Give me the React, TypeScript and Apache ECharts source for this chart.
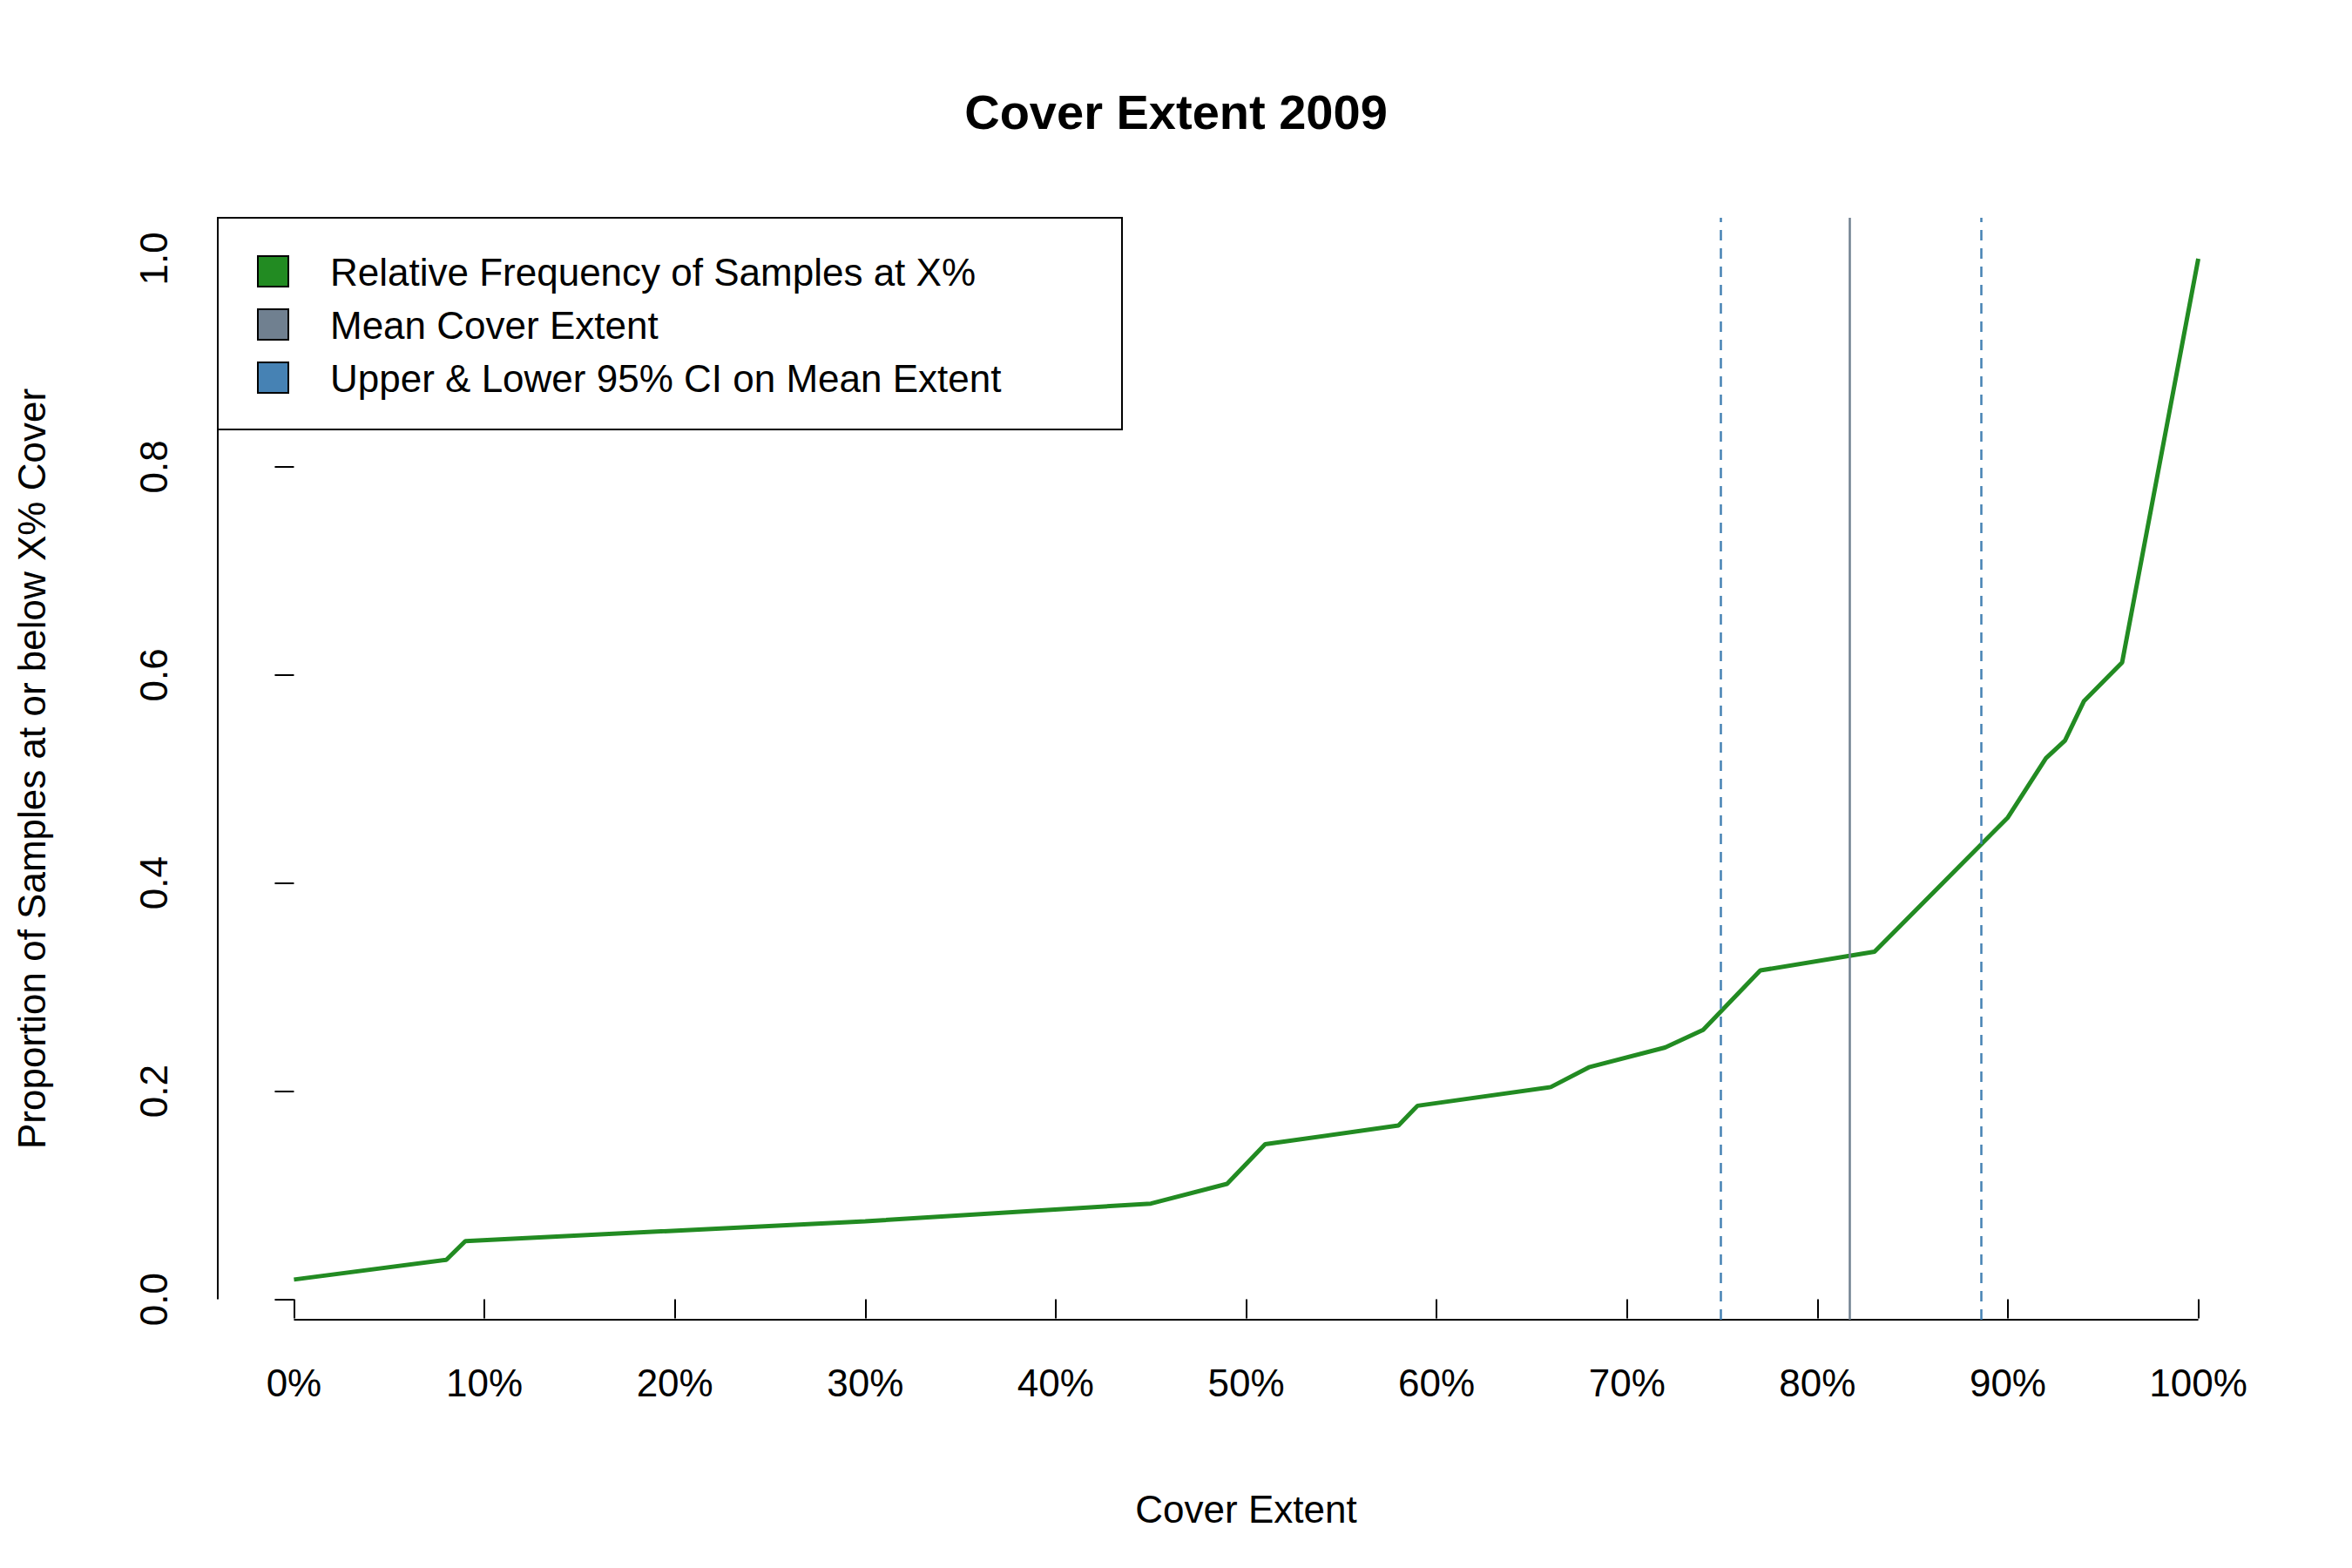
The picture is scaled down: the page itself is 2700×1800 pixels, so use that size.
import React, { useEffect, useRef } from 'react';
import * as echarts from 'echarts';

// cover extent (%) and cumulative proportion of samples
const coverPct = [0, 8, 9, 30, 45, 49, 51, 58, 59, 66, 68, 72, 74, 77, 83, 90, 92, 93, 94, 96, 100];
const proportion = [0.019, 0.038, 0.056, 0.075, 0.092, 0.111, 0.149, 0.167, 0.186, 0.204, 0.223, 0.242, 0.259, 0.316, 0.334, 0.463, 0.52, 0.537, 0.575, 0.612, 1.0];
const meanExtent = 81.7;
const ciLower = 74.9;
const ciUpper = 88.6;
const xTicks = [0, 10, 20, 30, 40, 50, 60, 70, 80, 90, 100];
const yTicks = [0, 0.2, 0.4, 0.6, 0.8, 1.0];
const legendItems = [
  { name: 'Relative Frequency of Samples at X%', color: '#228B22' },
  { name: 'Mean Cover Extent', color: '#708090' },
  { name: 'Upper & Lower 95% CI on Mean Extent', color: '#4682B4' },
];

const FONT = '"Liberation Sans", Arial, sans-serif';
const Y_MIN = -0.0196;
const Y_MAX = 1.0393;

const App: React.FC = () => {
  const chartRef = useRef<HTMLDivElement>(null);

  useEffect(() => {
    document.body.style.margin = '0';
    if (!chartRef.current) return;
    const chart = echarts.init(chartRef.current, undefined, { renderer: 'svg' });

    const axisLineStyle = { color: '#000', width: 2 };

    const option: echarts.EChartsOption = {
      animation: false,
      backgroundColor: '#fff',
      title: {
        text: 'Cover Extent 2009',
        left: 'center',
        top: 95,
        textStyle: { fontFamily: FONT, fontSize: 56, fontWeight: 'bold', color: '#000' },
      },
      grid: { left: 250, right: 89, top: 250, bottom: 285 },
      xAxis: {
        type: 'value',
        min: -4,
        max: 104,
        name: 'Cover Extent',
        nameLocation: 'middle',
        nameGap: 195,
        nameTextStyle: { fontFamily: FONT, fontSize: 44, color: '#000' },
        axisLine: { show: false },
        splitLine: { show: false },
        axisTick: { show: true, customValues: xTicks, length: 22, inside: false, lineStyle: axisLineStyle },
        axisLabel: {
          customValues: xTicks,
          formatter: (v: number) => `${v}%`,
          fontFamily: FONT,
          fontSize: 44,
          color: '#000',
          margin: 50,
        },
      },
      yAxis: {
        type: 'value',
        min: Y_MIN,
        max: Y_MAX,
        name: 'Proportion of Samples at or below X% Cover',
        nameLocation: 'middle',
        nameGap: 192,
        nameTextStyle: { fontFamily: FONT, fontSize: 44, color: '#000' },
        axisLine: { show: false },
        splitLine: { show: false },
        axisTick: { show: true, customValues: yTicks, length: 22, lineStyle: axisLineStyle },
        axisLabel: {
          customValues: yTicks,
          formatter: (v: number) => v.toFixed(1),
          rotate: 90,
          fontFamily: FONT,
          fontSize: 44,
          color: '#000',
          margin: 52,
        },
      },
      series: [
        {
          type: 'line',
          data: coverPct.map((x, i) => [x, proportion[i]]),
          showSymbol: false,
          lineStyle: { color: '#228B22', width: 5 },
          z: 3,
          markLine: {
            silent: true,
            symbol: 'none',
            label: { show: false },
            data: [
              { xAxis: ciLower, lineStyle: { color: '#4682B4', width: 2.5, type: [12, 9] } },
              { xAxis: meanExtent, lineStyle: { color: '#708090', width: 2.5, type: 'solid' } },
              { xAxis: ciUpper, lineStyle: { color: '#4682B4', width: 2.5, type: [12, 9] } },
            ],
          },
        },
        {
          // x axis line spanning first to last tick
          type: 'line',
          data: [[0, Y_MIN], [100, Y_MIN]],
          showSymbol: false,
          lineStyle: axisLineStyle,
          clip: false,
        },
        {
          // y axis line spanning first to last tick
          type: 'line',
          data: [[-4, 0], [-4, 1]],
          showSymbol: false,
          lineStyle: axisLineStyle,
          clip: false,
        },
      ],
      graphic: [
        {
          type: 'rect',
          shape: { x: 250, y: 250, width: 1038, height: 243 },
          style: { fill: '#fff', stroke: '#000', lineWidth: 2 },
          z: 10,
        },
        ...legendItems.flatMap((item, i) => [
          {
            type: 'rect' as const,
            shape: { x: 296, y: 294 + i * 61, width: 35, height: 35 },
            style: { fill: item.color, stroke: '#000', lineWidth: 2 },
            z: 11,
          },
          {
            type: 'text' as const,
            x: 379,
            y: 312 + i * 61,
            style: {
              text: item.name,
              fontFamily: FONT,
              fontSize: 44,
              fill: '#000',
              verticalAlign: 'middle' as const,
            },
            z: 11,
          },
        ]),
      ],
    };

    chart.setOption(option);
    return () => chart.dispose();
  }, []);

  return <div ref={chartRef} style={{ width: 2700, height: 1800 }} />;
};

export default App;
